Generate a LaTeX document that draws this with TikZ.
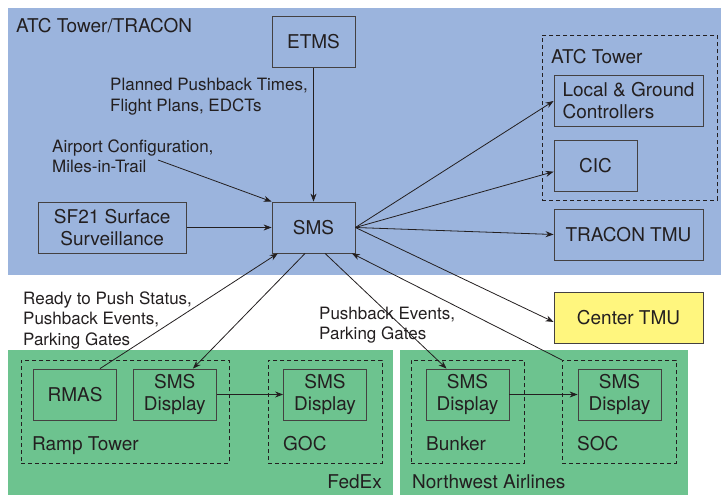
\documentclass[tikz,border=0pt]{standalone}
\usepackage{fontspec}
\setmainfont{TeX Gyre Heros}
\usetikzlibrary{positioning, arrows.meta}
\definecolor{atcblue}{HTML}{9BB4DD}
\definecolor{airgreen}{HTML}{6DC38F}
\definecolor{tmuyellow}{HTML}{FFF67E}
\definecolor{inkgray}{HTML}{231F20}

\begin{document}
\begin{tikzpicture}[x=1pt, y=-1pt, >={Stealth[length=8pt, width=6pt]},
        box/.style={draw=inkgray!85, line width=0.8pt, minimum width=83pt, minimum height=51pt,
            inner sep=2pt, align=center, text=inkgray, font=\fontsize{19}{22}\selectfont},
        wide/.style={minimum width=149pt},
        group/.style={draw=inkgray, dash pattern=on 4pt off 3pt, line width=0.7pt, inner sep=0pt,
            anchor=north west, minimum height=103pt},
        lbl/.style={inner sep=0pt, align=left, text=inkgray, anchor=north west,
            font=\fontsize{17}{20.5}\selectfont},
        title/.style={inner sep=0pt, text=inkgray, anchor=base west, font=\fontsize{19}{21}\selectfont},
        link/.style={->, line width=0.8pt, draw=inkgray}]
        \useasboundingbox (0,0) rectangle (721,495);

        % regions
        \fill[atcblue] (8,8) rectangle (721,275);
        \fill[airgreen] (8,350) rectangle (393,495);
        \fill[airgreen] (400,350) rectangle (688,495);

        % dashed groups
        \node[group, minimum width=175pt, minimum height=165pt] (atctwr) at (542,35) {};
        \node[group, minimum width=208pt] (rampgrp) at (21,360) {};
        \node[group, minimum width=114pt] (gocgrp) at (268,360) {};
        \node[group, minimum width=113pt] (bunkgrp) at (411,360) {};
        \node[group, minimum width=114pt] (socgrp) at (562,360) {};

        % boxes
        \node[box] (sms) at (313.5,227.5) {SMS};
        \node[box, above=134pt of sms] (etms) {ETMS};
        \node[box, minimum width=148pt, left=85pt of sms] (sf21) {SF21 Surface\\Surveillance};
        \node[box, wide, align=left] (lgc) at (628.5,101) {Local \& Ground\\Controllers};
        \node[box, below right=13pt and 0pt of lgc.south west] (cic) {CIC};
        \node[box, wide] (tracon) at (628.5,234.5) {TRACON TMU};
        \node[box, wide, fill=tmuyellow] (ctmu) at (628.5,318) {Center TMU};
        \node[box] (rmas) at (75,394.5) {RMAS};
        \node[box, right=16pt of rmas] (rampdisp) {SMS\\Display};
        \node[box] (gocdisp) at (325,394.5) {SMS\\Display};
        \node[box] (bunkdisp) at (467.5,394.5) {SMS\\Display};
        \node[box] (socdisp) at (619.5,394.5) {SMS\\Display};

        % titles
        \node[title] (atctitle) at (16,33) {ATC Tower/TRACON};
        \node[title] (twrtitle) at (551,64) {ATC Tower};
        \node[title] (ramptitle) at (32,450) {Ramp Tower};
        \node[title] (goctitle) at (283,450) {GOC};
        \node[title] (bunktitle) at (426,450) {Bunker};
        \node[title] (soctitle) at (577,450) {SOC};
        \node[title, anchor=base east] (fdxtitle) at (382,488) {FedEx};
        \node[title] (nwatitle) at (412,488) {Northwest Airlines};

        % flow labels
        \node[lbl] (planlbl) at (110,78) {Planned Pushback Times,\\Flight Plans, EDCTs};
        \node[lbl] (cfglbl) at (52,139.5) {Airport Configuration,\\Miles-in-Trail};
        \node[lbl] (readylbl) at (23,291.5) {Ready to Push Status,\\Pushback Events,\\Parking Gates};
        \node[lbl] (pushlbl) at (319,306.5) {Pushback Events,\\Parking Gates};
        \coordinate (cfgend) at (158,160);

        \draw[link] (etms) -- (sms);
        \draw[link] (cfgend) -- (sms.north west);
        \draw[link] (sf21) -- (sms);
        \draw[link] (sms.east) -- (lgc.west);
        \draw[link] (sms.east) -- (cic.188);
        \draw[link] (sms.east) -- (tracon.west);
        \draw[link] (sms.east) -- (ctmu.183);
        \draw[link] (rmas.46) -- (sms.216);
        \draw[link] (sms.252) -- (rampdisp.55);
        \draw[link] (sms.294) -- (bunkdisp.129);
        \draw[link] (socgrp.north west) -- (sms.326);
        \draw[link] (rampdisp) -- (gocdisp);
        \draw[link] (bunkdisp) -- (socdisp);
    \end{tikzpicture}
\end{document}
